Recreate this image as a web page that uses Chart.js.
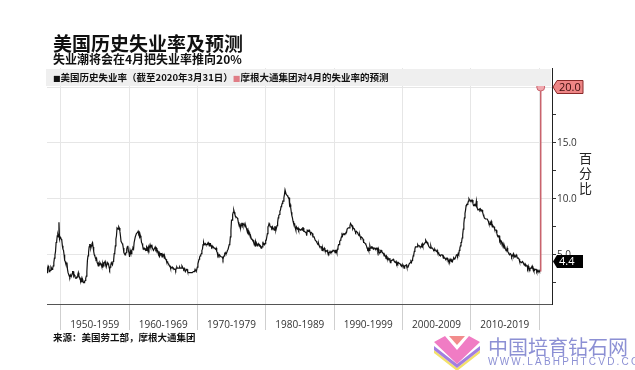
<!DOCTYPE html>
<html>
<head>
<meta charset="utf-8">
<script src="https://cdn.jsdelivr.net/npm/chart.js@4.4.1/dist/chart.umd.min.js"></script>
<style>
  body { margin: 0; background: #fff; }
  #wrap { position: relative; width: 635px; height: 370px; overflow: hidden; font-family: "Noto Sans CJK SC", sans-serif; }
  canvas { position: absolute; left: 0; top: 0; }
  .txt { position: absolute; white-space: nowrap; color: #111; }
  #title { left: 53px; top: 32px; font-size: 19px; line-height: 22px; font-weight: 700; }
  #subtitle { left: 53px; top: 52px; font-size: 12px; line-height: 14px; font-weight: 700; }
  #band { position: absolute; left: 46px; top: 69px; width: 505px; height: 17px; background: #efefef; }
  #legend { left: 53px; top: 71px; font-size: 9.5px; line-height: 13px; font-weight: 700; }
  #legend .sq { font-family: "DejaVu Sans", sans-serif; font-size: 8px; }
  #unit { left: 579px; top: 150px; width: 14px; font-size: 13px; line-height: 15px; white-space: normal; color: #222; }
  #source { left: 53px; top: 331px; font-size: 9.5px; line-height: 12px; font-weight: 700; }
  #wm1 { left: 488px; top: 336px; font-size: 20px; line-height: 22px; color: #8c90d4; }
  #wm2 { left: 488px; top: 356px; font-size: 10px; line-height: 11px; color: #8c90d4; letter-spacing: 2.2px; font-family: "Liberation Sans", sans-serif; }
  #logo { position: absolute; left: 434px; top: 336px; }
</style>
</head>
<body>
<div id="wrap">
  <canvas id="chart" width="635" height="370"></canvas>
  <div id="band"></div>
  <div class="txt" id="title">美国历史失业率及预测</div>
  <div class="txt" id="subtitle">失业潮将会在4月把失业率推向20%</div>
  <div class="txt" id="legend"><span class="sq" style="color:#111">■</span>美国历史失业率（截至2020年3月31日）<span class="sq" style="color:#e07d86">■</span>摩根大通集团对4月的失业率的预测</div>
  <div class="txt" id="unit">百分比</div>
  <div class="txt" id="source">来源：美国劳工部，摩根大通集团</div>
  <svg id="logo" width="46" height="34" viewBox="0 0 46 34">
    <polygon points="0,14 23,32 46,14 46,17 23,35 0,17" fill="#f3e16a"/>
    <polygon points="0,10 23,28 46,10 46,14 23,32 0,14" fill="#a27fe0"/>
    <polygon points="0,6 11,0 23,14 35,0 46,6 23,28" fill="#f07cc4"/>
    <polygon points="15,0 31,0 23,9" fill="#f28c8c"/>
  </svg>
  <div class="txt" id="wm1">中国培育钻石网</div>
  <div class="txt" id="wm2">WWW.LABHPHTCVD.COM</div>
</div>
<script>
// Monthly US unemployment rate (%)
const rate1940s = [
  3.4,3.8,4.0,3.9,3.5,3.6,3.6,3.9,3.8,3.7,3.8,4.0,
  4.3,4.7,5.0,5.3,6.1,6.2,6.7,6.8,6.6,7.9,6.4,6.6
];
const rate1950s = [
  6.5,6.4,6.3,5.8,5.5,5.4,5.0,4.5,4.4,4.2,4.2,4.3,
  3.7,3.4,3.4,3.1,3.0,3.2,3.1,3.1,3.3,3.5,3.5,3.1,
  3.2,3.1,2.9,2.9,3.0,3.0,3.2,3.4,3.1,3.0,2.8,2.7,
  2.9,2.6,2.6,2.7,2.5,2.5,2.6,2.7,2.9,3.1,3.5,4.5,
  4.9,5.2,5.7,5.9,5.9,5.6,5.8,6.0,6.1,5.7,5.3,5.0,
  4.9,4.7,4.6,4.7,4.3,4.2,4.0,4.2,4.1,4.3,4.2,4.2,
  4.0,3.9,4.2,4.0,4.3,4.3,4.4,4.1,3.9,3.9,4.3,4.2,
  4.2,3.9,3.7,3.9,4.1,4.3,4.2,4.1,4.4,4.5,5.1,5.2,
  5.8,6.4,6.7,7.4,7.4,7.3,7.5,7.4,7.1,6.7,6.2,6.2,
  6.0,5.9,5.6,5.2,5.1,5.0,5.1,5.2,5.5,5.7,5.8,5.3
];
const rate1960s = [
  5.2,4.8,5.4,5.2,5.1,5.4,5.5,5.6,5.5,6.1,6.1,6.6,
  6.6,6.9,6.9,7.0,7.1,6.9,7.0,6.6,6.7,6.5,6.1,6.0,
  5.8,5.5,5.6,5.6,5.5,5.5,5.4,5.7,5.6,5.4,5.7,5.5,
  5.7,5.9,5.7,5.7,5.9,5.6,5.6,5.4,5.5,5.5,5.7,5.5,
  5.6,5.4,5.4,5.3,5.1,5.2,4.9,5.0,5.1,5.1,4.8,5.0,
  4.9,5.1,4.7,4.8,4.6,4.6,4.4,4.4,4.3,4.2,4.1,4.0,
  4.0,3.8,3.8,3.8,3.9,3.8,3.8,3.8,3.7,3.7,3.6,3.8,
  3.9,3.8,3.8,3.8,3.8,3.9,3.8,3.8,3.8,4.0,3.9,3.8,
  3.7,3.8,3.7,3.5,3.5,3.7,3.7,3.5,3.4,3.4,3.4,3.4,
  3.4,3.4,3.4,3.4,3.4,3.5,3.5,3.5,3.7,3.7,3.5,3.5
];
const rate1970s = [
  3.9,4.2,4.4,4.6,4.8,4.9,5.0,5.1,5.4,5.5,5.9,6.1,
  5.9,5.9,6.0,5.9,5.9,5.9,6.0,6.1,6.0,5.8,6.0,6.0,
  5.8,5.7,5.8,5.7,5.7,5.7,5.6,5.6,5.5,5.6,5.3,5.2,
  4.9,5.0,4.9,5.0,4.9,4.9,4.8,4.8,4.8,4.6,4.8,4.9,
  5.1,5.2,5.1,5.1,5.1,5.4,5.5,5.5,5.9,6.0,6.6,7.2,
  8.1,8.1,8.6,8.8,9.0,8.8,8.6,8.4,8.4,8.4,8.3,8.2,
  7.9,7.7,7.6,7.7,7.4,7.6,7.8,7.8,7.6,7.7,7.8,7.8,
  7.5,7.6,7.4,7.2,7.0,7.2,6.9,7.0,6.8,6.8,6.8,6.4,
  6.4,6.3,6.3,6.1,6.0,5.9,6.2,5.9,6.0,5.8,5.9,6.0,
  5.9,5.9,5.8,5.8,5.6,5.7,5.7,6.0,5.9,6.0,5.9,6.0
];
const rate1980s = [
  6.3,6.3,6.3,6.9,7.5,7.6,7.8,7.7,7.5,7.5,7.5,7.2,
  7.5,7.4,7.4,7.2,7.5,7.5,7.2,7.4,7.6,7.9,8.3,8.5,
  8.6,8.9,9.0,9.3,9.4,9.6,9.8,9.8,10.1,10.4,10.8,10.8,
  10.4,10.4,10.3,10.2,10.1,10.1,9.4,9.5,9.2,8.8,8.5,8.3,
  8.0,7.8,7.8,7.7,7.4,7.2,7.5,7.5,7.3,7.4,7.2,7.3,
  7.3,7.2,7.2,7.3,7.2,7.4,7.4,7.1,7.1,7.1,7.0,7.0,
  6.7,7.2,7.2,7.1,7.2,7.2,7.0,6.9,7.0,7.0,6.9,6.6,
  6.6,6.6,6.6,6.3,6.3,6.2,6.1,6.0,5.9,6.0,5.8,5.7,
  5.7,5.7,5.7,5.4,5.6,5.4,5.4,5.6,5.4,5.4,5.3,5.3,
  5.4,5.2,5.0,5.2,5.2,5.3,5.2,5.2,5.3,5.3,5.4,5.4
];
const rate1990s = [
  5.4,5.3,5.2,5.4,5.4,5.2,5.5,5.7,5.9,5.9,6.2,6.3,
  6.4,6.6,6.8,6.7,6.9,6.9,6.8,6.9,6.9,7.0,7.0,7.3,
  7.3,7.4,7.4,7.4,7.6,7.8,7.7,7.6,7.6,7.3,7.4,7.4,
  7.3,7.1,7.0,7.1,7.1,7.0,6.9,6.8,6.7,6.8,6.6,6.5,
  6.6,6.6,6.5,6.4,6.1,6.1,6.1,6.0,5.9,5.8,5.6,5.5,
  5.6,5.4,5.4,5.8,5.6,5.6,5.7,5.7,5.6,5.5,5.6,5.6,
  5.6,5.5,5.5,5.6,5.6,5.3,5.5,5.1,5.2,5.2,5.4,5.4,
  5.3,5.2,5.2,5.1,4.9,5.0,4.9,4.8,4.9,4.7,4.6,4.7,
  4.6,4.6,4.7,4.3,4.4,4.5,4.5,4.5,4.6,4.5,4.4,4.4,
  4.3,4.4,4.2,4.3,4.2,4.3,4.3,4.2,4.2,4.1,4.1,4.0
];
const rate2000s = [
  4.0,4.1,4.0,3.8,4.0,4.0,4.0,4.1,3.9,3.9,3.9,3.9,
  4.2,4.2,4.3,4.4,4.3,4.5,4.6,4.9,5.0,5.3,5.5,5.7,
  5.7,5.7,5.7,5.9,5.8,5.8,5.8,5.7,5.7,5.7,5.9,6.0,
  5.8,5.9,5.9,6.0,6.1,6.3,6.2,6.1,6.1,6.0,5.8,5.7,
  5.7,5.6,5.8,5.6,5.6,5.6,5.5,5.4,5.4,5.5,5.4,5.4,
  5.3,5.4,5.2,5.2,5.1,5.0,5.0,4.9,5.0,5.0,5.0,4.9,
  4.7,4.8,4.7,4.7,4.6,4.6,4.7,4.7,4.5,4.4,4.5,4.4,
  4.6,4.5,4.4,4.5,4.4,4.6,4.7,4.6,4.7,4.7,4.7,5.0,
  5.0,4.9,5.1,5.0,5.4,5.6,5.8,6.1,6.1,6.5,6.8,7.3,
  7.8,8.3,8.7,9.0,9.4,9.5,9.5,9.6,9.8,10.0,9.9,9.9
];
const rate2010s = [
  9.8,9.8,9.9,9.9,9.6,9.4,9.4,9.5,9.5,9.4,9.8,9.3,
  9.1,9.0,9.0,9.1,9.0,9.1,9.0,9.0,9.0,8.8,8.6,8.5,
  8.3,8.3,8.2,8.2,8.2,8.2,8.2,8.0,7.8,7.8,7.7,7.9,
  8.0,7.7,7.5,7.6,7.5,7.5,7.3,7.2,7.2,7.2,6.9,6.7,
  6.6,6.7,6.7,6.2,6.3,6.1,6.2,6.1,5.9,5.7,5.8,5.6,
  5.7,5.5,5.4,5.4,5.6,5.3,5.2,5.1,5.0,5.0,5.1,5.0,
  4.8,4.9,5.0,5.1,4.8,4.9,4.8,4.9,5.0,4.9,4.7,4.7,
  4.7,4.6,4.4,4.4,4.4,4.3,4.3,4.4,4.3,4.2,4.2,4.1,
  4.0,4.1,4.0,4.0,3.8,4.0,3.8,3.8,3.7,3.8,3.8,3.9,
  4.0,3.8,3.8,3.6,3.6,3.7,3.7,3.7,3.5,3.6,3.5,3.5
];
const rate2020 = [3.6, 3.5];

const lastReported = 4.4;       // 截至2020年3月31日
const forecastApril = 20.0;     // 摩根大通预测
const forecastYear = 2020.25;

const decades = [1950, 1960, 1970, 1980, 1990, 2000, 2010, 2020];
const yTicks = [2.5, 5, 7.5, 10, 12.5, 15, 17.5, 20];

// build {x, y} points, x = fractional year
const blocks = [[1948, rate1940s], [1950, rate1950s], [1960, rate1960s], [1970, rate1970s],
  [1980, rate1980s], [1990, rate1990s], [2000, rate2000s], [2010, rate2010s], [2020, rate2020]];
const history = [];
blocks.forEach(([start, arr]) => {
  arr.forEach((v, i) => history.push({ x: start + i / 12, y: v }));
});
const lastValue = rate2020[rate2020.length - 1];
const forecast = [{ x: forecastYear, y: lastValue }, { x: forecastYear, y: forecastApril }];

// value tags on the right axis
function drawTag(ctx, x, y, text, fill, stroke, color) {
  const h = 13, w = 30, tip = 4;
  ctx.save();
  ctx.beginPath();
  ctx.moveTo(x, y);
  ctx.lineTo(x + tip, y - h / 2);
  ctx.lineTo(x + w, y - h / 2);
  ctx.lineTo(x + w, y + h / 2);
  ctx.lineTo(x + tip, y + h / 2);
  ctx.closePath();
  ctx.fillStyle = fill;
  ctx.fill();
  if (stroke) { ctx.strokeStyle = stroke; ctx.lineWidth = 1; ctx.stroke(); }
  ctx.fillStyle = color;
  ctx.font = '11px "Open Sans", sans-serif';
  ctx.textBaseline = 'middle';
  ctx.fillText(text, x + tip + 2, y + 0.5);
  ctx.restore();
}

const valueTags = {
  id: 'valueTags',
  afterDraw(chart) {
    const ctx = chart.ctx;
    const ys = chart.scales.y;
    const x = chart.chartArea.right + 1;
    drawTag(ctx, x, ys.getPixelForValue(forecastApril), forecastApril.toFixed(1), '#ee8585', '#8a2a2a', '#3a0c0c');
    drawTag(ctx, x, ys.getPixelForValue(lastReported), lastReported.toFixed(1), '#000', null, '#fff');
  }
};

new Chart(document.getElementById('chart').getContext('2d'), {
  type: 'line',
  data: {
    datasets: [
      {
        label: '美国历史失业率',
        data: history,
        borderColor: '#111',
        borderWidth: 1.2,
        pointRadius: 0,
        tension: 0
      },
      {
        label: '摩根大通集团对4月的失业率的预测',
        data: forecast,
        borderColor: '#c9636d',
        borderWidth: 1.5,
        pointRadius: [0, 4],
        pointBackgroundColor: '#f0a8ae',
        pointBorderColor: '#c9636d',
        pointBorderWidth: 1
      }
    ]
  },
  options: {
    responsive: false,
    animation: false,
    layout: { padding: { left: 47, top: 68, right: 0, bottom: 0 } },
    plugins: { legend: { display: false }, tooltip: { enabled: false } },
    scales: {
      x: {
        type: 'linear',
        min: 1948,
        max: 2021.9,
        afterBuildTicks: scale => {
          const t = [];
          decades.forEach(d => { t.push({ value: d }); if (d < 2020) t.push({ value: d + 5 }); });
          scale.ticks = t;
        },
        afterFit: scale => { scale.height = 66; },
        border: { display: true, color: '#555', width: 1 },
        grid: {
          color: c => (c.tick && c.tick.value % 10 === 0) ? '#e6e6e6' : 'rgba(0,0,0,0)',
          tickColor: c => (c.tick && c.tick.value % 10 === 0) ? '#cfcfcf' : 'rgba(0,0,0,0)',
          tickLength: 26
        },
        ticks: {
          autoSkip: false,
          maxRotation: 0,
          padding: -11,
          color: '#333',
          font: { family: '"Open Sans", sans-serif', size: 10 },
          callback: v => (v % 10 === 5) ? (v - 5) + '-' + (v + 4) : ''
        }
      },
      y: {
        position: 'right',
        min: 0.6,
        max: 21.7,
        afterBuildTicks: scale => { scale.ticks = yTicks.map(v => ({ value: v })); },
        afterFit: scale => { scale.width = 83; },
        border: { display: true, color: '#222', width: 1 },
        grid: {
          color: c => (c.tick && c.tick.value % 5 === 0) ? '#e6e6e6' : 'rgba(0,0,0,0)',
          tickColor: '#333',
          tickLength: 4
        },
        ticks: {
          padding: 1,
          color: '#333',
          font: { family: '"Open Sans", sans-serif', size: 10 },
          callback: v => (v % 5 === 0) ? v.toFixed(1) : ''
        }
      }
    }
  },
  plugins: [valueTags]
});
</script>
</body>
</html>
